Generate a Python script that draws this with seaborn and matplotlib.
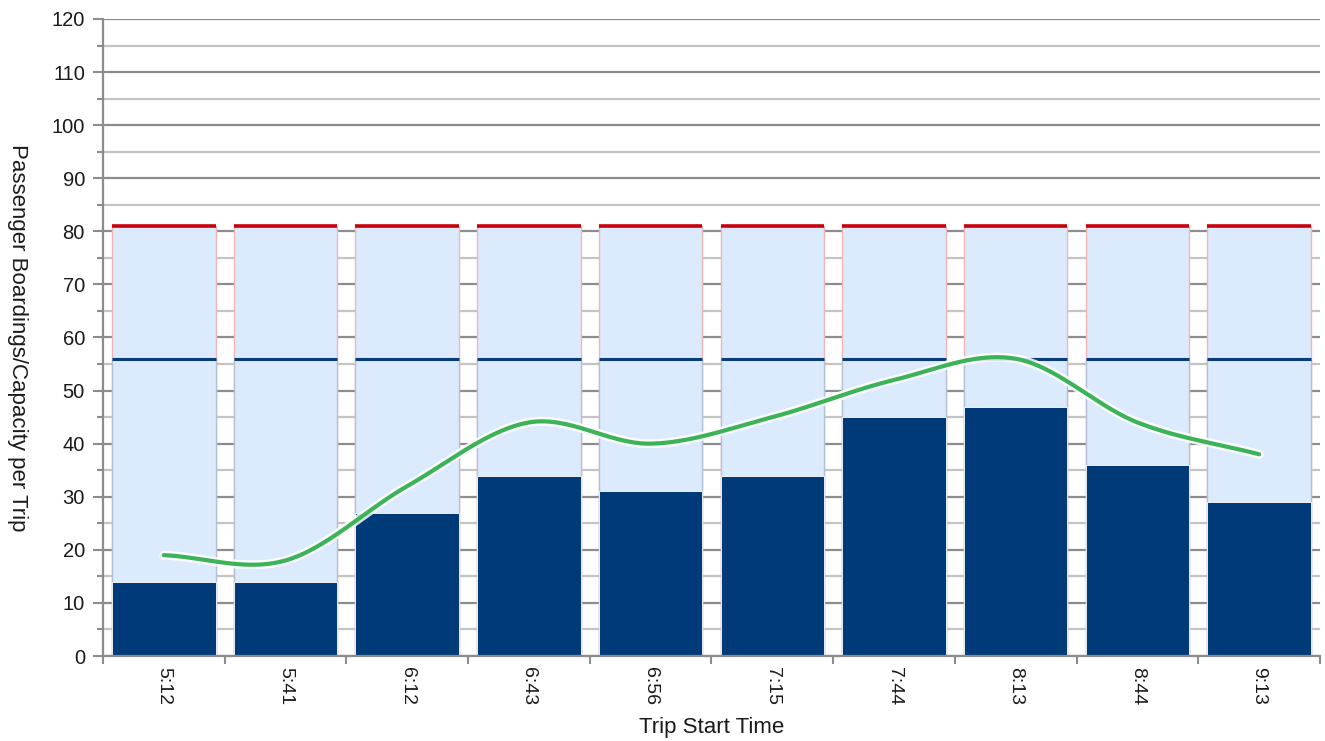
import numpy as np
import pandas as pd
import matplotlib
matplotlib.use("Agg")
import matplotlib.pyplot as plt
import matplotlib.patheffects as pe
from matplotlib.ticker import MultipleLocator
import seaborn as sns

# ---- data ----
trip_times = ["5:12", "5:41", "6:12", "6:43", "6:56", "7:15", "7:44", "8:13", "8:44", "9:13"]
boardings = [14, 14, 27, 34, 31, 34, 45, 47, 36, 29]
max_load = [19, 18, 32, 44, 40, 45, 52, 56, 44, 38]
total_capacity = [81, 81, 81, 81, 81, 81, 81, 81, 81, 81]
seated_capacity = [56, 56, 56, 56, 56, 56, 56, 56, 56, 56]
y_ticks = [0, 10, 20, 30, 40, 50, 60, 70, 80, 90, 100, 110, 120]

df = pd.DataFrame({"time": trip_times, "boardings": boardings, "max_load": max_load,
                   "total": total_capacity, "seated": seated_capacity})

sns.set_theme(style="white")
plt.rcParams["font.family"] = ["Liberation Sans Narrow", "Liberation Sans", "DejaVu Sans"]

fig = plt.figure(figsize=(13.25, 7.41), dpi=100)
ax = fig.add_axes([0.0777, 0.1147, 0.9185, 0.8597])

# grid
ax.set_ylim(0, 120)
ax.yaxis.set_major_locator(MultipleLocator(10))
ax.yaxis.set_minor_locator(MultipleLocator(5))
ax.set_axisbelow(True)
ax.grid(True, which="major", axis="y", color="#8c8c8c", lw=1.6)
ax.grid(True, which="minor", axis="y", color="#c4c4c4", lw=1.6)
ax.grid(False, axis="x")

bw = 0.85
light = "#dbeafc"
sns.barplot(data=df, x="time", y="total", color=light, saturation=1, width=bw,
            edgecolor="#f4b4b4", linewidth=1.0, ax=ax, zorder=2)
sns.barplot(data=df, x="time", y="seated", color=light, saturation=1, width=bw,
            edgecolor="#b4c0d4", linewidth=1.0, ax=ax, zorder=2)
sns.barplot(data=df, x="time", y="boardings", color="#003a78", saturation=1, width=bw,
            edgecolor="white", linewidth=0.6, ax=ax, zorder=3)

xs = np.arange(len(trip_times))
ax.hlines(total_capacity, xs - bw / 2, xs + bw / 2, color="#c8000c", lw=2.6, zorder=4)
ax.hlines(seated_capacity, xs - bw / 2, xs + bw / 2, color="#0a3c78", lw=2.2, zorder=4)

# smoothed line (Catmull-Rom through the data points)
def catmull_rom(x, y, n=40):
    x = np.asarray(x, float); y = np.asarray(y, float)
    px = np.concatenate([[2 * x[0] - x[1]], x, [2 * x[-1] - x[-2]]])
    py = np.concatenate([[2 * y[0] - y[1]], y, [2 * y[-1] - y[-2]]])
    ox, oy = [], []
    for i in range(1, len(px) - 2):
        t = np.linspace(0, 1, n, endpoint=False)
        for p, o in ((px, ox), (py, oy)):
            p0, p1, p2, p3 = p[i - 1], p[i], p[i + 1], p[i + 2]
            o.extend(0.5 * (2 * p1 + (-p0 + p2) * t + (2 * p0 - 5 * p1 + 4 * p2 - p3) * t ** 2
                            + (-p0 + 3 * p1 - 3 * p2 + p3) * t ** 3))
    ox.append(x[-1]); oy.append(y[-1])
    return np.array(ox), np.array(oy)

sx, sy = catmull_rom(xs, max_load)
ax.plot(sx, sy, color="#3cb356", lw=3.0, zorder=5, solid_capstyle="round",
        path_effects=[pe.Stroke(linewidth=6.5, foreground="white", alpha=0.85), pe.Normal()])

# axes styling
ax.set_xlim(-0.5, len(trip_times) - 0.5)
ax.set_yticks(y_ticks)
ax.set_yticklabels([str(v) for v in y_ticks], fontsize=14.5, color="#1a1a1a")
ax.set_xticks(xs)
ax.set_xticklabels(trip_times, rotation=270, fontsize=14, color="#1a1a1a")
ax.tick_params(axis="x", which="major", length=0, pad=8)
ax.set_xticks(np.arange(-0.5, len(trip_times)), minor=True)
ax.tick_params(axis="x", which="minor", length=6, width=1.5, color="#8c8c8c", direction="out", bottom=True)
ax.tick_params(axis="y", which="major", length=7, width=1.5, color="#8c8c8c", direction="out", left=True, pad=6)
ax.tick_params(axis="y", which="minor", length=4, width=1.5, color="#8c8c8c", direction="out", left=True)

for s in ["top", "right"]:
    ax.spines[s].set_visible(False)
for s in ["left", "bottom"]:
    ax.spines[s].set_color("#8c8c8c")
    ax.spines[s].set_linewidth(1.6)
    ax.spines[s].set_zorder(6)

ax.set_xlabel("Trip Start Time", fontsize=16, color="#1a1a1a", va="center")
ax.xaxis.set_label_coords(0.5, -0.113)
ax.set_ylabel("Passenger Boardings/Capacity per Trip", fontsize=16, color="#1a1a1a",
              rotation=270, va="center")
ax.yaxis.set_label_coords(-0.070, 0.5)

fig.savefig("out.png", dpi=100)
